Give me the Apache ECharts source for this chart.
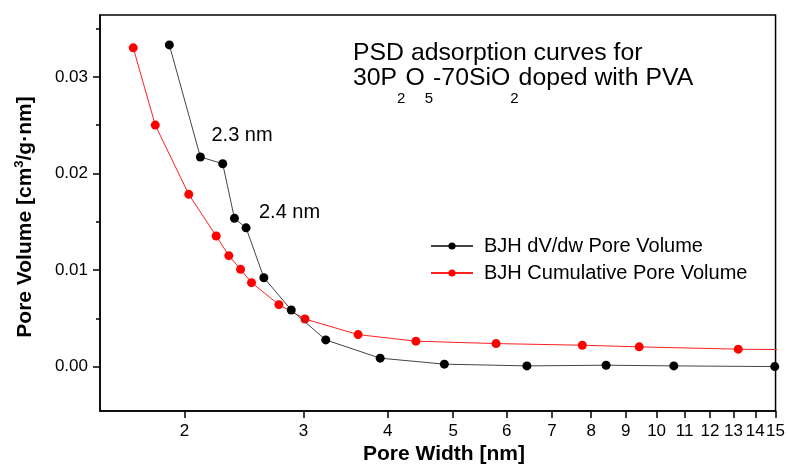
<!DOCTYPE html>
<html>
<head>
<meta charset="utf-8">
<script src="https://cdn.jsdelivr.net/npm/echarts@6/dist/echarts.min.js"></script>
<style>
html,body{margin:0;padding:0;background:#fff;}
#chart{width:788px;height:465px;}
</style>
</head>
<body>
<div id="chart"></div>
<script>
// ---- data ----
const widthDVdw = [1.900, 2.112, 2.279, 2.372, 2.468, 2.622, 2.879, 3.238, 3.898, 4.851, 6.427, 8.419, 10.605, 14.96];
const volDVdw   = [0.0333, 0.0217, 0.0210, 0.01535, 0.01436, 0.0092, 0.00586, 0.00276, 0.00087, 0.00025, 0.00007, 0.00014, 0.00007, 0.0000];
const widthCum  = [1.680, 1.811, 2.030, 2.229, 2.327, 2.422, 2.514, 2.760, 3.016, 3.615, 4.403, 5.786, 7.763, 9.424, 13.21, 17.5];
const volCum    = [0.0330, 0.0250, 0.01783, 0.01352, 0.01148, 0.01007, 0.00869, 0.00641, 0.00493, 0.00331, 0.00263, 0.00238, 0.00221, 0.00204, 0.00180, 0.00172];
const xTicks = [2, 3, 4, 5, 6, 7, 8, 9, 10, 11, 12, 13, 14, 15];
const yMajor = [0, 0.01, 0.02, 0.03];
const yMinor = [0.005, 0.015, 0.025, 0.035];
const seriesNames = ['BJH dV/dw Pore Volume', 'BJH Cumulative Pore Volume'];
const annotations = ['2.3 nm', '2.4 nm'];

const FONT = '"Liberation Sans", Arial, sans-serif';
const cv = document.createElement('canvas').getContext('2d');
function tw(t, size, bold) { cv.font = (bold ? 'bold ' : '') + size + 'px ' + FONT; return cv.measureText(t).width; }

function txt(x, y, t, size, opts) {
  opts = opts || {};
  return { type: 'text', x: x, y: y, silent: true,
    style: { text: t, fontSize: size, fontFamily: FONT, fontWeight: opts.bold ? 'bold' : 'normal',
      fill: '#000', textAlign: 'left', textVerticalAlign: 'middle' } };
}

// Title line 2 pieces with subscripts
const T = 24.8, S = 15;
const line2 = [['30P', 0], ['2', 1], ['O', 0], ['5', 1], ['-70SiO', 0], ['2', 1], ['doped with PVA', 0]];
const graphics = [];
graphics.push(txt(353, 61.7 - 0.35 * T, 'PSD adsorption curves for', T));
let cx = 353;
line2.forEach(p => {
  if (p[1]) { graphics.push(txt(cx, 104 - 0.35 * S, p[0], S)); cx += tw(p[0], S); }
  else { graphics.push(txt(cx, 86.5 - 0.35 * T, p[0], T)); cx += tw(p[0], T); }
});
// annotations
graphics.push(txt(211.5, 142 - 0.35 * 20, annotations[0], 20));
graphics.push(txt(259, 219.3 - 0.35 * 20, annotations[1], 20));
// x axis title
graphics.push(txt(363, 461.5 - 0.35 * 21, 'Pore Width [nm]', 21, { bold: true }));
// y axis title (rotated)
const yParts = [['Pore Volume [cm', 0], ['3', 1], ['/g·nm]', 0]];
const yChildren = [];
let lx = 0;
yParts.forEach(p => {
  if (p[1]) { yChildren.push(txt(lx, -9 - 0.35 * 13, p[0], 13, { bold: true })); lx += tw(p[0], 13, true); }
  else { yChildren.push(txt(lx, -0.35 * 21, p[0], 21, { bold: true })); lx += tw(p[0], 21, true); }
});
const yCenter = 217;
graphics.push({ type: 'group', x: 33, y: yCenter + lx / 2, rotation: Math.PI / 2, children: yChildren });

const chart = echarts.init(document.getElementById('chart'), null, { renderer: 'canvas' });
const axisLine = { show: true, onZero: false, lineStyle: { color: '#000', width: 1.5 } };
chart.setOption({
  animation: false,
  backgroundColor: '#fff',
  textStyle: { fontFamily: FONT },
  grid: { left: 100, right: 11, top: 15, bottom: 54, show: true, borderColor: '#000', borderWidth: 1.5, containLabel: false },
  xAxis: {
    type: 'log', logBase: 10, min: 1.5, max: 15,
    axisLine: axisLine,
    splitLine: { show: false },
    minorTick: { show: false },
    axisTick: { show: true, length: 7, inside: false, customValues: xTicks, lineStyle: { color: '#000', width: 1.5 } },
    axisLabel: { customValues: xTicks, color: '#000', fontSize: 17, margin: 12, fontFamily: FONT,
      formatter: v => String(Math.round(v)) }
  },
  yAxis: [{
    type: 'value', min: -0.0046, max: 0.0364, position: 'left',
    axisLine: axisLine,
    splitLine: { show: false },
    axisTick: { show: true, length: 7, customValues: yMajor, lineStyle: { color: '#000', width: 1.5 } },
    axisLabel: { customValues: yMajor, color: '#000', fontSize: 17, margin: 12, fontFamily: FONT,
      formatter: v => v.toFixed(2) }
  }, {
    type: 'value', min: -0.0046, max: 0.0364, position: 'left', offset: 0,
    axisLine: { show: false, onZero: false },
    splitLine: { show: false },
    axisTick: { show: true, length: 4, customValues: yMinor, lineStyle: { color: '#000', width: 1.5 } },
    axisLabel: { show: false, customValues: yMinor }
  }],
  legend: {
    orient: 'vertical', left: 430, top: 236, padding: 0, itemWidth: 42, itemHeight: 9, itemGap: 7,
    textStyle: { fontSize: 20, color: '#000', fontFamily: FONT, padding: [0, 0, 0, 6] },
    data: seriesNames
  },
  series: [{
    name: seriesNames[0], type: 'line',
    data: widthDVdw.map((w, i) => [w, volDVdw[i]]),
    symbol: 'circle', symbolSize: 9,
    itemStyle: { color: '#000' },
    lineStyle: { color: '#444', width: 1 },
    clip: true, z: 3
  }, {
    name: seriesNames[1], type: 'line',
    data: widthCum.map((w, i) => [w, volCum[i]]),
    symbol: 'circle', symbolSize: 9,
    itemStyle: { color: '#ff0000' },
    lineStyle: { color: '#ff2020', width: 1 },
    clip: true, z: 2
  }],
  graphic: graphics
});
</script>
</body>
</html>
